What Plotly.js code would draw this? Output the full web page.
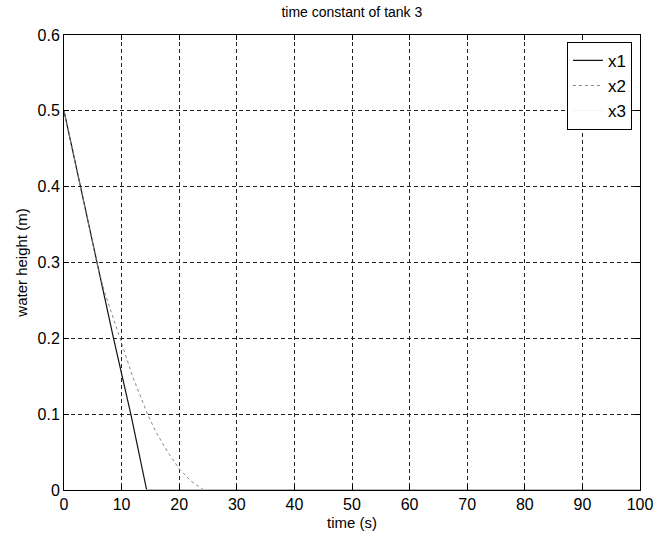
<!DOCTYPE html>
<html>
<head>
<meta charset="utf-8">
<script src="https://cdn.plot.ly/plotly-3.0.1.min.js"></script>
<style>html,body{margin:0;padding:0;background:#fff;}#chart{width:654px;height:537px;}</style>
</head>
<body>
<div id="chart"></div>
<script>
// time (s) and water heights (m)
var t1 = [0, 5.7, 8.6, 11.6, 14.35, 100];
var x1 = [0.5, 0.3, 0.2, 0.1, 0, 0];
var t2 = [0, 5.7, 7, 8.5, 10, 12, 14.5, 16, 18, 20, 22, 24.3, 100];
var x2 = [0.5, 0.3, 0.262, 0.228, 0.196, 0.148, 0.1, 0.076, 0.05, 0.028, 0.012, 0, 0];
var t3 = [0, 100];
var x3 = [0, 0];
var seriesNames = ['x1', 'x2', 'x3'];
var xTicks = [0, 10, 20, 30, 40, 50, 60, 70, 80, 90, 100];
var yTicks = [0, 0.1, 0.2, 0.3, 0.4, 0.5, 0.6];

var font = {family: 'Liberation Sans, Arial, sans-serif', color: '#000'};
var traces = [
  {x: t1, y: x1, name: seriesNames[0], mode: 'lines', line: {color: '#111', width: 1.2}},
  {x: t2, y: x2, name: seriesNames[1], mode: 'lines', line: {color: '#888', width: 1, dash: 'dot'}},
  {x: t3, y: x3, name: seriesNames[2], mode: 'lines', line: {color: '#f4f4f4', width: 1}}
];
var axisCommon = {
  showline: true, linecolor: '#000', linewidth: 1, mirror: 'ticks',
  ticks: 'inside', ticklen: 5, tickcolor: '#000',
  showgrid: true, gridcolor: '#222', gridwidth: 1, griddash: '4px,3px',
  zeroline: false, tickfont: Object.assign({size: 16}, font)
};
var layout = {
  width: 654, height: 537,
  margin: {l: 64, r: 14, t: 35, b: 47},
  paper_bgcolor: '#fff', plot_bgcolor: '#fff',
  showlegend: true,
  title: {text: 'time constant of tank 3', font: Object.assign({size: 14}, font), x: 0.538, xanchor: 'center', y: 0.978, yanchor: 'middle'},
  xaxis: Object.assign({}, axisCommon, {range: [0, 100], tickvals: xTicks, ticktext: xTicks.map(String),
    title: {text: 'time (s)', font: Object.assign({size: 15}, font), standoff: 5}}),
  yaxis: Object.assign({}, axisCommon, {range: [0, 0.6], tickvals: yTicks, ticktext: yTicks.map(function(v){return v===0?'0':v.toFixed(1);}),
    title: {text: 'water height (m)', font: Object.assign({size: 15}, font), standoff: 6}}),
  legend: {x: 0.986, xanchor: 'right', y: 0.985, yanchor: 'top', bgcolor: '#fff', bordercolor: '#000', borderwidth: 1,
    font: Object.assign({size: 17}, font), tracegroupgap: 0}
};
Plotly.newPlot('chart', traces, layout, {displayModeBar: false, staticPlot: true});
</script>
</body>
</html>
